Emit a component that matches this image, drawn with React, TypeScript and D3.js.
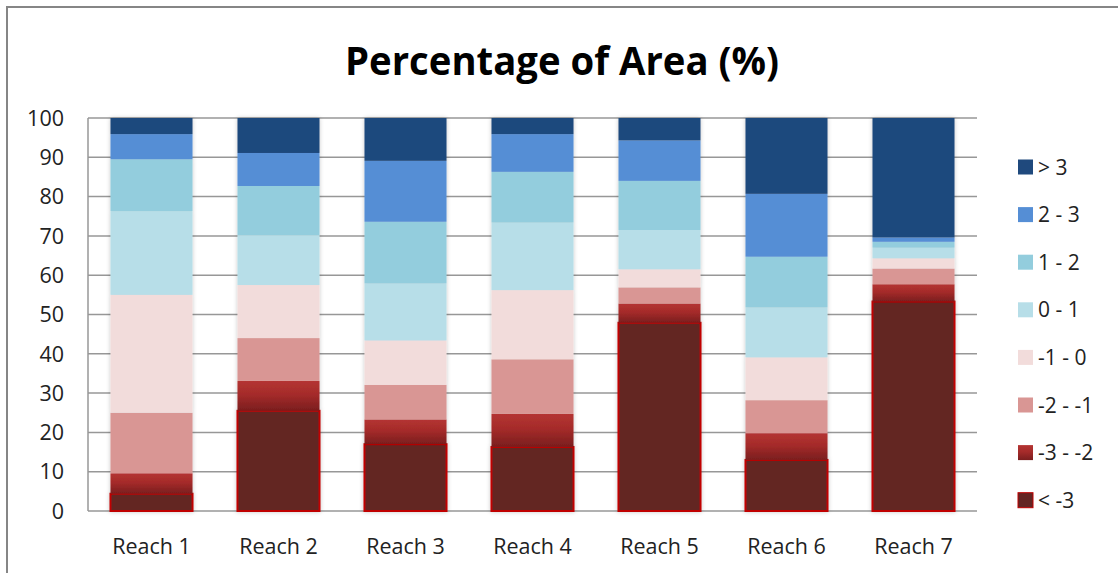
import React, { useEffect, useRef } from "react";
import * as d3 from "d3";

const categories = ["Reach 1", "Reach 2", "Reach 3", "Reach 4", "Reach 5", "Reach 6", "Reach 7"];
const seriesNames = ["< -3", "-3 - -2", "-2 - -1", "-1 - 0", "0 - 1", "1 - 2", "2 - 3", "> 3"];
const lt3 = [4.4, 25.5, 17.0, 16.3, 47.9, 13.0, 53.3];
const m3m2 = [5.2, 7.6, 6.3, 8.4, 4.9, 6.8, 4.4];
const m2m1 = [15.4, 10.9, 8.8, 13.9, 4.1, 8.4, 4.0];
const m1z = [30.0, 13.5, 11.3, 17.6, 4.6, 10.9, 2.6];
const z1 = [21.3, 12.7, 14.5, 17.2, 10.0, 12.7, 2.7];
const p12 = [13.2, 12.5, 15.7, 12.9, 12.5, 12.9, 1.5];
const p23 = [6.4, 8.4, 15.5, 9.6, 10.3, 16.0, 1.1];
const gt3 = [4.1, 8.9, 10.9, 4.1, 5.7, 19.3, 30.4];
const yTicks = [0, 10, 20, 30, 40, 50, 60, 70, 80, 90, 100];
const colors = ["#632523", "url(#redGrad)", "#D99694", "#F2DCDB", "#B7DEE8", "#93CDDD", "#558ED5", "#1F497D"];

export default function App() {
  const ref = useRef<SVGSVGElement>(null);
  useEffect(() => {
    const svg = d3.select(ref.current);
    svg.selectAll("*").remove();
    const W = 1118, H = 573;
    const left = 88, right = 977, top = 118, bottom = 511;
    const font = "Open Sans, sans-serif";

    const defs = svg.append("defs");
    const g = defs.append("linearGradient").attr("id", "redGrad").attr("x1", 0).attr("y1", 0).attr("x2", 0).attr("y2", 1);
    g.append("stop").attr("offset", "0%").attr("stop-color", "#B43432");
    g.append("stop").attr("offset", "45%").attr("stop-color", "#A52B2A");
    g.append("stop").attr("offset", "100%").attr("stop-color", "#7A1E1E");
    const f = defs.append("filter").attr("id", "shadow").attr("x", "-10%").attr("y", "-5%").attr("width", "120%").attr("height", "110%");
    f.append("feDropShadow").attr("dx", 0).attr("dy", 0).attr("stdDeviation", 2).attr("flood-color", "#000").attr("flood-opacity", 0.22);

    svg.append("rect").attr("x", 0).attr("y", 0).attr("width", W).attr("height", H).attr("fill", "#fff");
    svg.append("path").attr("d", `M7,${H} L7,7 L${W},7`).attr("fill", "none").attr("stroke", "#868686").attr("stroke-width", 2);

    svg.append("text").attr("x", 562).attr("y", 75).attr("text-anchor", "middle")
      .attr("font-family", font).attr("font-weight", "bold").attr("font-size", 40).attr("fill", "#000")
      .attr("textLength", 434).attr("lengthAdjust", "spacingAndGlyphs")
      .text("Percentage of Area (%)");

    const x = d3.scaleBand<string>().domain(categories).range([left, right]).paddingInner(0.354).paddingOuter(0.177);
    const y = d3.scaleLinear().domain([0, 100]).range([bottom, top]);

    svg.append("g").selectAll("line").data(yTicks).join("line")
      .attr("x1", left).attr("x2", right).attr("y1", (d) => y(d)).attr("y2", (d) => y(d))
      .attr("stroke", "#979797").attr("stroke-width", 1.5);
    svg.append("line").attr("x1", left).attr("x2", left).attr("y1", top).attr("y2", bottom)
      .attr("stroke", "#979797").attr("stroke-width", 1.5);
    svg.append("g").selectAll("text").data(yTicks).join("text")
      .attr("x", 64).attr("y", (d) => y(d)).attr("dy", "0.36em").attr("text-anchor", "end")
      .attr("font-family", font).attr("font-size", 21.5).attr("fill", "#222").text((d) => String(d));

    const rows = categories.map((c, i) => {
      const r: any = { cat: c };
      const arrs = [lt3, m3m2, m2m1, m1z, z1, p12, p23, gt3];
      seriesNames.forEach((s, k) => (r[s] = arrs[k][i]));
      return r;
    });
    const stack = d3.stack<any>().keys(seriesNames);
    const layers = stack(rows);

    const bars = svg.append("g").attr("filter", "url(#shadow)");
    layers.forEach((layer, k) => {
      bars.append("g").selectAll("rect").data(layer).join("rect")
        .attr("x", (d: any) => x(d.data.cat)!)
        .attr("width", x.bandwidth())
        .attr("y", (d: any) => y(Math.min(d[1], 100)))
        .attr("height", (d: any) => y(d[0]) - y(Math.min(d[1], 100)))
        .attr("fill", colors[k])
        .attr("stroke", k === 0 ? "#C00000" : "none")
        .attr("stroke-width", k === 0 ? 2 : 0);
    });

    svg.append("g").selectAll("text").data(categories).join("text")
      .attr("x", (d) => x(d)! + x.bandwidth() / 2).attr("y", 554).attr("text-anchor", "middle")
      .attr("font-family", font).attr("font-size", 21.5).attr("fill", "#222").text((d) => d);

    const legendOrder = seriesNames.slice().reverse();
    const legColors = colors.slice().reverse();
    const lg = svg.append("g");
    legendOrder.forEach((s, i) => {
      const cy = 167 + i * 47.6;
      lg.append("rect").attr("x", 1018).attr("y", cy - 7.5).attr("width", 15).attr("height", 15)
        .attr("fill", legColors[i]).attr("stroke", s === "< -3" ? "#C00000" : "none").attr("stroke-width", 1);
      lg.append("text").attr("x", 1038).attr("y", cy).attr("dy", "0.36em")
        .attr("font-family", font).attr("font-size", 21).attr("fill", "#222").text(s);
    });
  }, []);
  return (
    <svg ref={ref} width={1118} height={573}
      style={{ display: "block", position: "absolute", left: 0, top: 0 }} />
  );
}
